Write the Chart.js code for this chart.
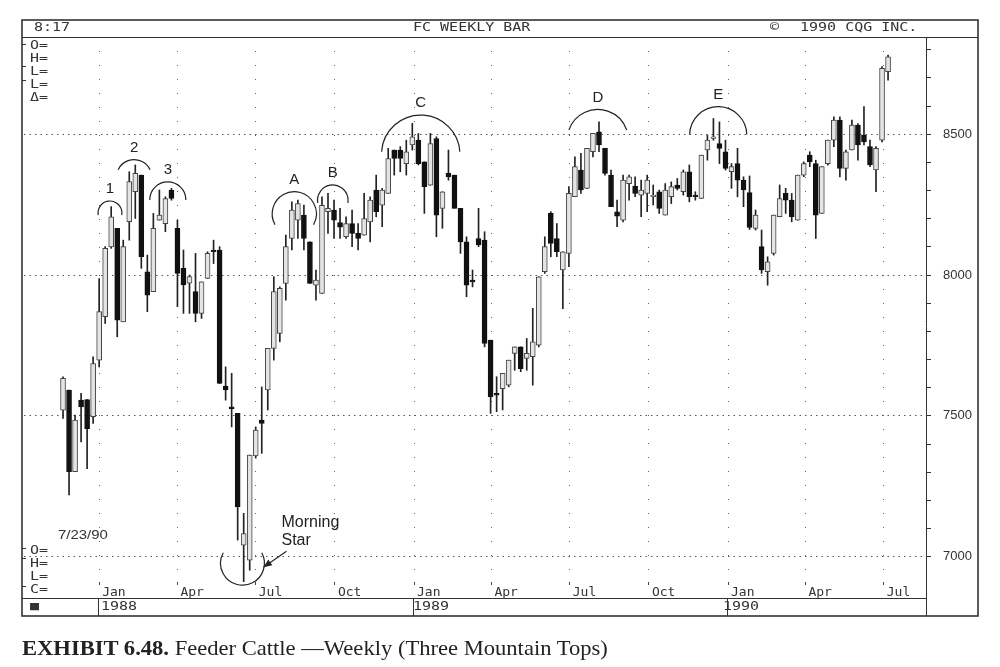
<!DOCTYPE html>
<html>
<head>
<meta charset="utf-8">
<script src="https://cdn.jsdelivr.net/npm/chart.js@4.4.0/dist/chart.umd.min.js"></script>
<style>
  html, body { margin: 0; padding: 0; background: #fff; }
  #wrap { position: relative; width: 1000px; height: 667px; }
  canvas { position: absolute; left: 0; top: 0; }
  .cqg { position: absolute; font-family: "DejaVu Sans Mono", monospace; font-size: 12px; line-height: 13px; color: #333; white-space: pre; transform: scaleX(1.25); transform-origin: left top; }
  .date { position: absolute; font-family: "Liberation Sans", sans-serif; font-size: 13px; color: #333; transform: scaleX(1.15); transform-origin: left top; }
  .caption { position: absolute; left: 22px; top: 636px; font-family: "Liberation Serif", serif; font-size: 21px; color: #222; white-space: nowrap; transform: scaleX(1.075); transform-origin: left top; }
</style>
</head>
<body>
<div id="wrap">
  <canvas id="myChart" width="1000" height="667"></canvas>
  <div class="cqg" style="left:34px;top:21px">8:17</div>
  <div class="cqg" style="left:413px;top:21px">FC WEEKLY BAR</div>
  <div class="cqg" style="left:770px;top:21px">©</div>
  <div class="cqg" style="left:800px;top:21px">1990 CQG INC.</div>
  <div class="cqg" style="left:30px;top:39px">O=
H=
L=
L=
Δ=</div>
  <div class="date" style="left:58px;top:527px">7/23/90</div>
  <div class="cqg" style="left:30px;top:544px">O=
H=
L=
C=</div>
  <div class="cqg" style="left:30px;top:600px">■</div>
  <div class="cqg" style="left:101px;top:600px">1988</div>
  <div class="cqg" style="left:413px;top:600px">1989</div>
  <div class="cqg" style="left:723px;top:600px">1990</div>
  <div class="caption"><b>EXHIBIT 6.48.</b> Feeder Cattle —Weekly (Three Mountain Tops)</div>
</div>
<script>
// weekly Feeder Cattle candles, first week 1987-11-20
var firstWeek = '1987-11-20';
var opens = [7520, 7592, 7302, 7556, 7558, 7497, 7698, 7852, 8100, 8166,
    7834, 8190, 8296, 8355, 8012, 7941, 8195, 8183, 8302, 8166,
    8024, 7971, 7941, 7864, 7988, 8089, 8089, 7606, 7532, 7509,
    7041, 6988, 7358, 7485, 7592, 7740, 7793, 7970, 8130, 8195,
    8213, 8118, 7964, 7935, 8225, 8231, 8186, 8136, 8183, 8148,
    8142, 8189, 8302, 8248, 8290, 8444, 8444, 8396, 8462, 8479,
    8402, 8319, 8485, 8237, 8361, 8355, 8237, 8118, 7982, 8130,
    8124, 7769, 7580, 7597, 7609, 7722, 7745, 7704, 7710, 7751,
    8012, 8219, 8130, 8018, 8077, 8278, 8373, 8308, 8438, 8509,
    8450, 8355, 8225, 8195, 8325, 8316, 8284, 8290, 8278, 8296,
    8213, 8278, 8320, 8296, 8367, 8284, 8272, 8444, 8485, 8467,
    8438, 8367, 8396, 8337, 8293, 8166, 8101, 8012, 8077, 8207,
    8290, 8266, 8195, 8355, 8426, 8396, 8219, 8396, 8479, 8550,
    8379, 8444, 8533, 8497, 8456, 8373, 8479, 8722];
var highs = [7639, 7592, 7503, 7580, 7558, 7710, 7988, 8101, 8243, 8166,
    8124, 8367, 8391, 8355, 8071, 8219, 8302, 8278, 8308, 8195,
    8089, 8000, 8077, 7976, 8083, 8124, 8101, 7674, 7651, 7509,
    7154, 7361, 7461, 7603, 7740, 7994, 7958, 8142, 8260, 8266,
    8249, 8118, 8018, 8278, 8290, 8266, 8237, 8207, 8231, 8183,
    8290, 8278, 8355, 8308, 8450, 8444, 8456, 8479, 8539, 8503,
    8402, 8503, 8491, 8296, 8444, 8355, 8237, 8136, 8018, 8237,
    8154, 7769, 7639, 7651, 7698, 7745, 7745, 7775, 7882, 7994,
    8136, 8225, 8183, 8083, 8314, 8420, 8432, 8450, 8503, 8544,
    8450, 8373, 8266, 8355, 8355, 8349, 8337, 8355, 8320, 8302,
    8325, 8331, 8343, 8373, 8391, 8296, 8426, 8497, 8556, 8544,
    8479, 8396, 8450, 8349, 8352, 8231, 8160, 8065, 8213, 8320,
    8308, 8290, 8355, 8402, 8438, 8408, 8385, 8479, 8562, 8562,
    8444, 8550, 8538, 8598, 8479, 8456, 8740, 8781];
var lows = [7491, 7219, 7302, 7408, 7313, 7473, 7674, 7828, 8095, 7781,
    7834, 8124, 8201, 8024, 7870, 7941, 8195, 8154, 8266, 7888,
    7864, 7864, 7834, 7846, 7988, 8041, 7615, 7556, 7461, 7059,
    6911, 6952, 7350, 7367, 7521, 7698, 7763, 7911, 8089, 8130,
    8089, 7970, 7911, 7935, 8148, 8130, 8130, 8130, 8101, 8089,
    8142, 8118, 8207, 8172, 8290, 8355, 8367, 8355, 8444, 8391,
    8219, 8319, 8136, 8166, 8337, 8237, 8077, 7923, 7958, 8101,
    7745, 7509, 7515, 7521, 7603, 7662, 7657, 7662, 7609, 7745,
    8006, 8065, 8065, 7881, 8030, 8278, 8290, 8308, 8420, 8438,
    8355, 8243, 8172, 8189, 8266, 8278, 8207, 8225, 8249, 8219,
    8213, 8254, 8302, 8284, 8260, 8266, 8272, 8408, 8479, 8396,
    8373, 8308, 8278, 8243, 8162, 8160, 8006, 7964, 8071, 8207,
    8219, 8189, 8195, 8349, 8385, 8130, 8219, 8390, 8456, 8349,
    8337, 8444, 8408, 8462, 8385, 8296, 8473, 8692];
var closes = [7633, 7302, 7485, 7532, 7455, 7686, 7870, 8095, 8207, 7840,
    8101, 8332, 8361, 8065, 7929, 8166, 8213, 8272, 8272, 8006,
    7965, 7995, 7864, 7976, 8077, 8083, 7615, 7592, 7526, 7177,
    7082, 7361, 7450, 7473, 7740, 7941, 7953, 8101, 8231, 8254,
    8130, 7970, 7982, 8248, 8237, 8195, 8170, 8183, 8148, 8130,
    8201, 8266, 8225, 8302, 8414, 8414, 8414, 8438, 8491, 8396,
    8314, 8467, 8213, 8296, 8349, 8237, 8118, 7964, 7976, 8107,
    7757, 7568, 7574, 7651, 7698, 7745, 7668, 7722, 7763, 7994,
    8101, 8112, 8083, 8083, 8290, 8385, 8302, 8450, 8503, 8462,
    8361, 8243, 8209, 8337, 8349, 8290, 8302, 8337, 8284, 8237,
    8302, 8314, 8308, 8367, 8278, 8278, 8426, 8479, 8491, 8450,
    8379, 8385, 8337, 8302, 8169, 8213, 8018, 8047, 8213, 8272,
    8266, 8207, 8355, 8396, 8402, 8213, 8385, 8479, 8550, 8379,
    8438, 8533, 8462, 8473, 8391, 8450, 8734, 8775];

var tickDates = ['1988-01-01', '1988-04-01', '1988-07-01', '1988-10-01',
    '1989-01-01', '1989-04-01', '1989-07-01', '1989-10-01',
    '1990-01-01', '1990-04-01', '1990-07-01'];
var tickLabels = ['Jan', 'Apr', 'Jul', 'Oct', 'Jan', 'Apr', 'Jul', 'Oct', 'Jan', 'Apr', 'Jul'];
var priceLabels = [7000, 7500, 8000, 8500];

// date -> week number counted from the first candle
function weekOf(d) {
    return (Date.parse(d) - Date.parse(firstWeek)) / (7 * 864e5);
}
var tickWeeks = tickDates.map(weekOf);

// the arcs over the tops: week, price at the top, half width in weeks, drop in price
var humps = [
    { text: '1', at: 7.8, top: 8263, half: 1.95, drop: 50 },
    { text: '2', at: 11.8, top: 8410, half: 2.65, drop: 36 },
    { text: '3', at: 17.4, top: 8331, half: 3.0, drop: 64 },
    { text: 'A', at: 38.4, top: 8296, half: 3.2, drop: 117 },
    { text: 'B', at: 44.8, top: 8320, half: 2.5, drop: 64 },
    { text: 'C', at: 59.4, top: 8568, half: 6.5, drop: 130 },
    { text: 'D', at: 88.8, top: 8588, half: 4.8, drop: 73 },
    { text: 'E', at: 108.8, top: 8598, half: 4.75, drop: 99 }
];
var star = { at: 29.8, bottom: 6899, half: 3.2, rise: 115 };

function arcPath(ctx, cx, yEdge, w, s, up) {
    var r = (w * w + s * s) / (2 * s);
    var t = s > w ? Math.PI - Math.asin(w / r) : Math.asin(w / r);
    ctx.beginPath();
    if (up) {
        ctx.arc(cx, yEdge + r, r, -Math.PI / 2 - t, -Math.PI / 2 + t);
    } else {
        ctx.arc(cx, yEdge - r, r, Math.PI / 2 - t, Math.PI / 2 + t);
    }
    ctx.stroke();
}

var decor = {
    id: 'decor',
    afterDraw: function (chart) {
        var ctx = chart.ctx, a = chart.chartArea;
        var xs = chart.scales.x, ys = chart.scales.y;
        ctx.save();
        ctx.strokeStyle = '#333';
        ctx.lineWidth = 1.6;
        ctx.strokeRect(22, 20, 956, 596);
        ctx.lineWidth = 1;
        ctx.beginPath();
        ctx.moveTo(22, 37.5); ctx.lineTo(978, 37.5);
        ctx.moveTo(a.right + 0.5, 37); ctx.lineTo(a.right + 0.5, 616);
        ctx.moveTo(22, 598.5); ctx.lineTo(a.right, 598.5);
        ctx.stroke();
        // left edge ticks
        [44, 66, 80, 548, 558, 586].forEach(function (yy) {
            ctx.beginPath();
            ctx.moveTo(22, yy + 0.5); ctx.lineTo(26, yy + 0.5);
            ctx.stroke();
        });
        // year separators under each Jan tick
        tickLabels.forEach(function (t, i) {
            if (t !== 'Jan') return;
            var px = Math.round(xs.getPixelForValue(tickWeeks[i])) - 0.5;
            ctx.beginPath();
            ctx.moveTo(px, 598); ctx.lineTo(px, 616);
            ctx.stroke();
        });

        ctx.strokeStyle = '#222';
        ctx.fillStyle = '#222';
        ctx.lineWidth = 1.2;
        ctx.font = '15px "Liberation Sans", Arial, sans-serif';
        ctx.textAlign = 'center';
        ctx.textBaseline = 'middle';
        humps.forEach(function (h) {
            var cx = xs.getPixelForValue(h.at);
            var ty = ys.getPixelForValue(h.top);
            var w = xs.getPixelForValue(h.at + h.half) - cx;
            var s = ys.getPixelForValue(h.top - h.drop) - ty;
            arcPath(ctx, cx, ty, w, s, true);
            ctx.fillText(h.text, cx, ty - 12);
        });

        // morning star
        var sx = xs.getPixelForValue(star.at);
        var by = ys.getPixelForValue(star.bottom);
        var sw = xs.getPixelForValue(star.at + star.half) - sx;
        var sh = by - ys.getPixelForValue(star.bottom + star.rise);
        arcPath(ctx, sx, by, sw, sh, false);
        ctx.font = '16px "Liberation Sans", Arial, sans-serif';
        ctx.textAlign = 'left';
        ctx.fillText('Morning', sx + 39, by - 63);
        ctx.fillText('Star', sx + 39, by - 45);
        var x0 = sx + 44, y0 = by - 34, x1 = sx + 21, y1 = by - 18;
        ctx.beginPath();
        ctx.moveTo(x0, y0); ctx.lineTo(x1, y1);
        ctx.stroke();
        var ang = Math.atan2(y1 - y0, x1 - x0);
        ctx.beginPath();
        ctx.moveTo(x1, y1);
        ctx.lineTo(x1 - 9 * Math.cos(ang - 0.4), y1 - 9 * Math.sin(ang - 0.4));
        ctx.lineTo(x1 - 9 * Math.cos(ang + 0.4), y1 - 9 * Math.sin(ang + 0.4));
        ctx.closePath();
        ctx.fill();
        ctx.restore();
    }
};

function isUp(i) {
    return closes[i] >= opens[i];
}

var ctx = document.getElementById('myChart').getContext('2d');
var chart = new Chart(ctx, {
    type: 'bar',
    data: {
        datasets: [{
            label: 'body',
            order: 0,
            grouped: false,
            data: opens.map(function (o, i) { return { x: i, y: [o, closes[i]] }; }),
            backgroundColor: function (c) { return isUp(c.dataIndex) ? '#e4e4e4' : '#111'; },
            borderColor: function (c) { return isUp(c.dataIndex) ? '#444' : '#111'; },
            borderWidth: 1,
            borderSkipped: false,
            barThickness: 5
        }, {
            label: 'wick',
            order: 1,
            grouped: false,
            data: lows.map(function (l, i) { return { x: i, y: [l, highs[i]] }; }),
            backgroundColor: '#222',
            borderWidth: 0,
            barThickness: 1
        }]
    },
    options: {
        responsive: false,
        animation: false,
        devicePixelRatio: 1,
        layout: { padding: { left: 24, top: 37, right: 22, bottom: 69 } },
        plugins: { legend: { display: false }, tooltip: { enabled: false } },
        scales: {
            x: {
                type: 'linear',
                offset: false,
                min: -6.48,
                max: 143.3,
                afterBuildTicks: function (s) {
                    s.ticks = tickWeeks.map(function (v) { return { value: v }; });
                },
                afterFit: function (s) { s.height = 16; },
                border: { display: false, dash: [1, 13] },
                grid: { offset: false, color: '#666', lineWidth: 1, drawTicks: true, tickLength: 3, tickColor: '#444' },
                ticks: {
                    autoSkip: false,
                    maxRotation: 0,
                    align: 'start',
                    labelOffset: 3,
                    padding: 0,
                    color: '#333',
                    font: { family: '"DejaVu Sans Mono", monospace', size: 13 },
                    callback: function (v, i) { return tickLabels[i]; }
                }
            },
            y: {
                position: 'right',
                min: 6910.2,
                max: 8845.4,
                afterBuildTicks: function (s) {
                    var t = [];
                    for (var v = 7000; v <= 8800; v += 100) t.push({ value: v });
                    s.ticks = t;
                },
                afterFit: function (s) { s.width = 52; },
                border: { display: false, dash: [1.5, 4] },
                grid: {
                    color: function (c) {
                        return c.tick && priceLabels.indexOf(c.tick.value) >= 0 ? '#555' : 'rgba(0,0,0,0)';
                    },
                    tickColor: '#333',
                    tickLength: 5,
                    lineWidth: 1
                },
                ticks: {
                    padding: 12,
                    color: '#333',
                    font: { family: '"Liberation Sans", Arial, sans-serif', size: 13 },
                    callback: function (v) { return priceLabels.indexOf(v) >= 0 ? String(v) : ''; }
                }
            }
        }
    },
    plugins: [decor]
});
</script>
</body>
</html>
